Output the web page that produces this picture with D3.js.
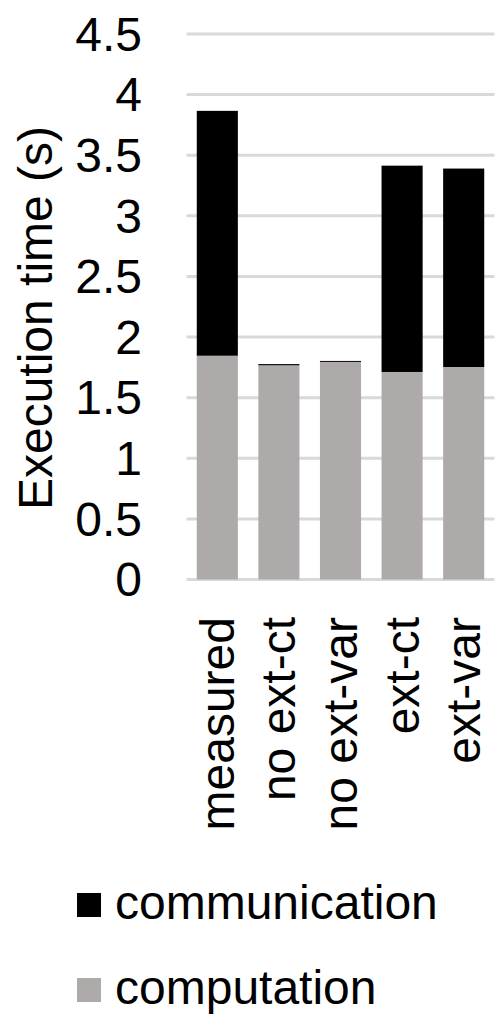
<!DOCTYPE html>
<html>
<head>
<meta charset="utf-8">
<script src="https://cdn.jsdelivr.net/npm/d3@7"></script>
<style>
  body { margin: 0; background: #fff; }
  text { font-family: "Liberation Sans", Arial, sans-serif; fill: #000; }
</style>
</head>
<body>
<div id="chart"></div>
<script>
// Data
const categories = ['measured', 'no ext-ct', 'no ext-var', 'ext-ct', 'ext-var']
const computation = [1.846, 1.767, 1.795, 1.712, 1.753]
const communication = [2.02, 0.01, 0.008, 1.702, 1.637]
const yTicks = [0, 0.5, 1, 1.5, 2, 2.5, 3, 3.5, 4, 4.5]
const seriesNames = ['communication', 'computation']
const colors = { communication: '#000000', computation: '#aeaaaa' }

const width = 498
const height = 1022
const plot = { left: 186.5, right: 494.5, top: 34, bottom: 579.5 }

const svg = d3.select('#chart')
  .append('svg')
  .attr('width', width)
  .attr('height', height)

const rows = categories.map((c, i) => ({
  category: c,
  computation: computation[i],
  communication: communication[i]
}))

// Scales
const x = d3.scaleBand()
  .domain(categories)
  .range([plot.left, plot.right])
  .paddingInner(0.333)
  .paddingOuter(0.1667)

const y = d3.scaleLinear()
  .domain([0, 4.5])
  .range([plot.bottom, plot.top])

// Gridlines
svg.append('g')
  .selectAll('line')
  .data(yTicks)
  .join('line')
  .attr('x1', plot.left)
  .attr('x2', plot.right)
  .attr('y1', d => y(d))
  .attr('y2', d => y(d))
  .attr('stroke', '#d9d9d9')
  .attr('stroke-width', 3)

// Y tick labels
svg.append('g')
  .selectAll('text')
  .data(yTicks)
  .join('text')
  .attr('x', 142)
  .attr('y', d => y(d))
  .attr('dy', '0.35em')
  .attr('text-anchor', 'end')
  .style('font-size', '48px')
  .text(d => d)

// Stacked bars
const stack = d3.stack().keys(['computation', 'communication'])
const layers = stack(rows)

svg.append('g')
  .selectAll('g')
  .data(layers)
  .join('g')
  .attr('fill', d => colors[d.key])
  .selectAll('rect')
  .data(d => d)
  .join('rect')
  .attr('x', d => x(d.data.category))
  .attr('width', x.bandwidth())
  .attr('y', d => y(d[1]))
  .attr('height', d => y(d[0]) - y(d[1]))

// X labels (rotated)
svg.append('g')
  .selectAll('text')
  .data(categories)
  .join('text')
  .attr('transform', d => `translate(${x(d) + x.bandwidth() / 2 + 16.5}, 617) rotate(-90)`)
  .attr('text-anchor', 'end')
  .style('font-size', '48px')
  .text(d => d)

// Y axis title
svg.append('text')
  .attr('transform', 'translate(52, 318) rotate(-90)')
  .attr('text-anchor', 'middle')
  .style('font-size', '48px')
  .text('Execution time (s)')

// Legend
const legend = svg.append('g')
  .selectAll('g')
  .data(seriesNames)
  .join('g')
  .attr('transform', (d, i) => `translate(77, ${893 + i * 85})`)

legend.append('rect')
  .attr('width', 24)
  .attr('height', 24)
  .attr('fill', d => colors[d])

legend.append('text')
  .attr('x', 38)
  .attr('y', 26)
  .style('font-size', '48px')
  .text(d => d)
</script>
</body>
</html>
